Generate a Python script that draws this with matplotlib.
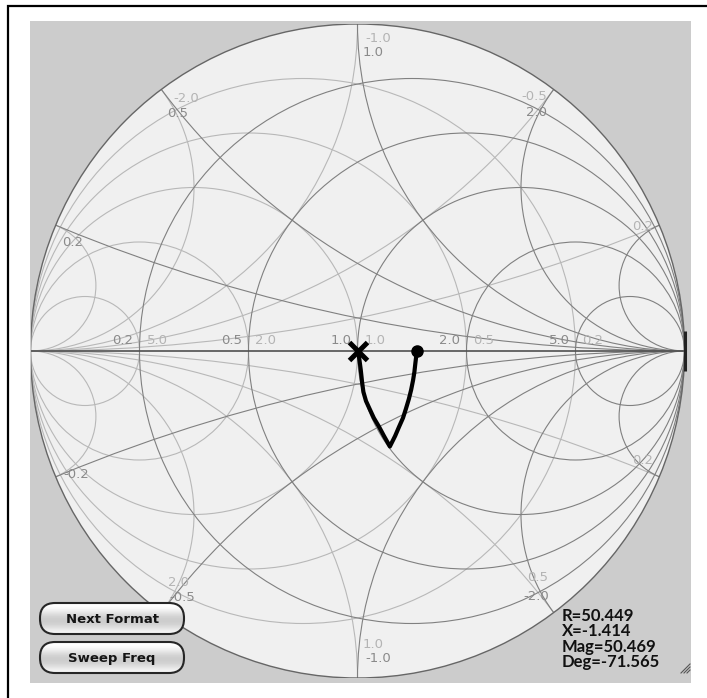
import numpy as np
import matplotlib
matplotlib.use("Agg")
import matplotlib.pyplot as plt
from matplotlib.patches import Circle, Rectangle, FancyBboxPatch

## chart values
r_values = [0.2, 0.5, 1.0, 2.0, 5.0]          # resistance circles (impedance grid)
x_values = [0.2, 0.5, 1.0, 2.0, 5.0]          # reactance arcs, +/- (impedance grid)
g_values = [0.2, 0.5, 1.0, 2.0, 5.0]          # conductance circles (admittance grid)
b_values = [0.2, 0.5, 1.0, 2.0, 5.0]          # susceptance arcs, +/- (admittance grid)

# trace, reflection coefficient
trace_re = [0.002, 0.006, 0.010, 0.014, 0.018, 0.026, 0.037, 0.050, 0.066, 0.081, 0.099,
            0.115, 0.127, 0.139, 0.148, 0.157, 0.164, 0.170, 0.174, 0.177, 0.180, 0.181]
trace_im = [0.000, -0.028, -0.058, -0.095, -0.125, -0.153, -0.177, -0.205, -0.232, -0.260, -0.292,
            -0.260, -0.232, -0.205, -0.177, -0.147, -0.119, -0.089, -0.064, -0.037, -0.012, 0.000]

readout = ["R=50.449", "X=-1.414", "Mag=50.469", "Deg=-71.565"]
buttons = ["Next Format", "Sweep Freq"]

# labels on the real axis: (value, dark text, light text)
axis_labels = [(0.2, "0.2", "5.0"), (0.5, "0.5", "2.0"), (1.0, "1.0", "1.0"),
               (2.0, "2.0", "0.5"), (5.0, "5.0", "0.2")]
# labels at the rim: (reactance x, text, dark?, offset px right, offset px down)
rim_labels = [(1.0, "1.0", True, 16, 28), (1.0, "-1.0", False, 21, 14),
              (-1.0, "-1.0", True, 21, -19), (-1.0, "1.0", False, 16, -33),
              (0.5, "0.5", True, 16, 24), (0.5, "-2.0", False, 25, 9),
              (2.0, "2.0", True, -17, 23), (2.0, "-0.5", False, -19, 7),
              (-0.5, "-0.5", True, 21, -15), (-0.5, "2.0", False, 17, -30),
              (-2.0, "-2.0", True, -17, -16), (-2.0, "0.5", False, -16, -35),
              (0.2, "0.2", True, 17, 17), (-0.2, "-0.2", True, 21, -2),
              (5.0, "0.2", False, -17, 1), (-5.0, "0.2", False, -17, -16)]

W, H = 707, 698
cx, cy, R = 357.5, 351.0, 327.0
dark = '#808080'
light = '#b8b8b8'
dark_txt = '#8a8a8a'
light_txt = '#b4b4b4'

fig = plt.figure(figsize=(W / 100.0, H / 100.0), dpi=100)
fig.patch.set_facecolor('white')

## background panel (pixel coords)
bg = fig.add_axes([0, 0, 1, 1], zorder=0)
bg.set_xlim(0, W)
bg.set_ylim(H, 0)
bg.axis('off')
bg.add_patch(Rectangle((8, 6), W + 20, H + 20, facecolor='white', edgecolor='black', lw=1.6))
bg.add_patch(Rectangle((30, 21), 661, 662, facecolor='#cccccc', edgecolor='none'))

## smith chart axes in gamma coords
ax = fig.add_axes([(cx - R) / W, (H - cy - R) / H, 2 * R / W, 2 * R / H], zorder=1)
ax.set_xlim(-1, 1)
ax.set_ylim(-1, 1)
ax.axis('off')
ax.patch.set_visible(False)

rim = Circle((0, 0), 1.0, facecolor='#f0f0f0', edgecolor='none', zorder=0)
ax.add_patch(rim)

def clipped_circle(center, radius, color, lw=0.8, z=1):
    c = Circle(center, radius, facecolor='none', edgecolor=color, lw=lw, zorder=z)
    ax.add_patch(c)
    c.set_clip_path(rim)
    return c

# admittance grid (light)
for g in g_values:
    clipped_circle((-g / (1 + g), 0), 1 / (1 + g), light)
for b in b_values:
    for s in (1, -1):
        clipped_circle((-1, -1 / (s * b)), 1 / b, light)

# impedance grid (dark)
for r in r_values:
    clipped_circle((r / (1 + r), 0), 1 / (1 + r), dark, z=2)
for x in x_values:
    for s in (1, -1):
        clipped_circle((1, 1 / (s * x)), 1 / x, dark, z=2)

ax.axhline(0, color='#505050', lw=1.2, zorder=3)
ax.add_patch(Circle((0, 0), 1.0, facecolor='none', edgecolor='#666666', lw=1.0, zorder=3))
# dark bar where the resistance circles meet at the open-circuit point
ax.plot([1.0], [0.0], marker='|', markersize=29, mew=2.2, color='#222222', zorder=3, clip_on=False)

# axis labels
for val, dtxt, ltxt in axis_labels:
    gx = (val - 1) / (val + 1)
    ax.annotate(dtxt, (gx, 0), xytext=(-6, 4), textcoords='offset pixels',
                ha='right', va='bottom', fontsize=9.5, color=dark_txt, zorder=4)
    ax.annotate(ltxt, (gx, 0), xytext=(7, 4), textcoords='offset pixels',
                ha='left', va='bottom', fontsize=9.5, color=light_txt, zorder=4)

# rim labels
for xv, txt, is_dark, dx, dy in rim_labels:
    th = np.sign(xv) * (np.pi - 2 * np.arctan(abs(xv)))
    ax.annotate(txt, (np.cos(th), np.sin(th)), xytext=(dx, -dy), textcoords='offset pixels',
                ha='center', va='center', fontsize=9.5,
                color=dark_txt if is_dark else light_txt, zorder=4)

# trace
ax.plot(trace_re, trace_im, color='black', lw=3.0, solid_capstyle='round',
        solid_joinstyle='round', zorder=5)
ax.plot(trace_re[0], trace_im[0], marker='x', markersize=12.5, mew=3.6, color='black', zorder=6)
ax.plot(trace_re[-1], trace_im[-1], marker='o', markersize=8, color='black', zorder=6)

## UI overlay (pixel coords)
ui = fig.add_axes([0, 0, 1, 1], zorder=2)
ui.patch.set_visible(False)
ui.axis('off')

grad = np.array([1.0, 0.98, 0.92, 0.85, 0.80, 0.80, 0.84, 0.9, 0.97]).reshape(-1, 1)
btn_y = [603, 642]
for label, y0 in zip(buttons, btn_y):
    x0, w, h = 40, 144, 31
    box = FancyBboxPatch((x0, y0), w, h, boxstyle="round,pad=0,rounding_size=15",
                         facecolor='none', edgecolor='#262626', lw=1.5, zorder=3)
    ui.add_patch(box)
    im = ui.imshow(grad, cmap='gray', vmin=0, vmax=1, extent=[x0, x0 + w, y0 + h, y0],
                   aspect='auto', interpolation='bicubic', zorder=2)
    im.set_clip_path(box)
    ui.text(x0 + w / 2, y0 + h / 2 + 1, label, ha='center', va='center',
            fontsize=9.5, fontweight='bold', color='#151515', zorder=4)

for i, line in enumerate(readout):
    ui.text(562, 616 + i * 15.3, line, ha='left', va='center', fontsize=12,
            family=['Lato', 'DejaVu Sans'], fontweight='bold', color='#111111')

for k in range(3):
    ui.plot([690 - 3 * k - 3, 690], [673, 673 - 3 * k - 3], color='#555555', lw=0.8)

ui.set_xlim(0, W)
ui.set_ylim(H, 0)

fig.savefig('out.png', dpi=100, facecolor='white')
